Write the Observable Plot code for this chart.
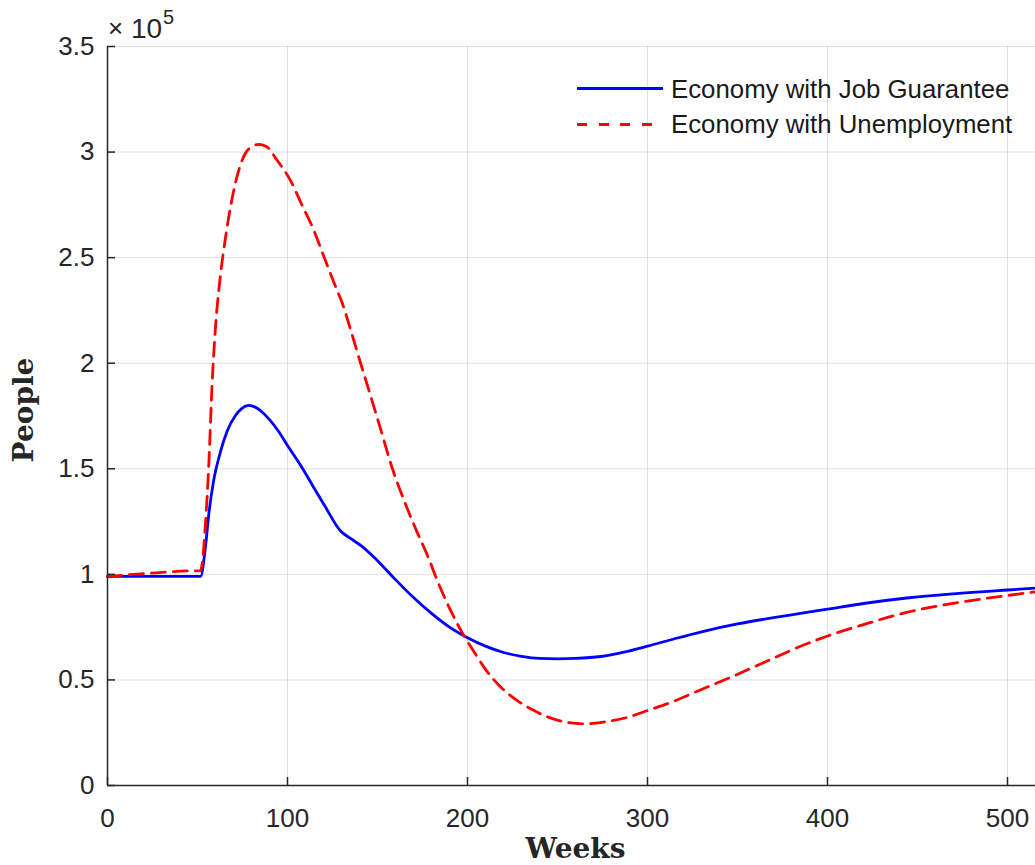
<!DOCTYPE html>
<html>
<head>
<meta charset="utf-8">
<script src="https://cdn.jsdelivr.net/npm/d3@7"></script>
<script src="https://cdn.jsdelivr.net/npm/@observablehq/plot@0.6"></script>
<style>
  html, body { margin: 0; padding: 0; background: #fff; overflow: hidden; }
  #wrap { position: relative; width: 1035px; height: 865px; overflow: hidden; background: #fff; }
  #wrap svg { max-width: none !important; }
  .ovl { position: absolute; font-family: "Liberation Sans", Arial, Helvetica, sans-serif; white-space: nowrap; }
  .sample { position: absolute; height: 3px; }
</style>
</head>
<body>
<div id="wrap"></div>
<script>
// ---- data ----
const seriesNames = ["Economy with Job Guarantee", "Economy with Unemployment"];
const seriesColors = ["#0000ff", "#ff0000"];

const weeksJG = [0, 20, 40, 51.7, 54.4, 56.3, 59.1, 62.8, 66.5, 71.1, 74.5, 78.5, 82, 86, 90, 95, 100, 107, 114, 121, 129.5, 135, 141, 150, 160, 170, 180, 190, 200, 210, 220, 230, 240, 250, 260, 274, 287, 300, 315, 330, 350, 370, 385, 400, 420, 444, 470, 500, 520];
const peopleJG = [99000, 99000, 99000, 99000, 112900, 128700, 145000, 158200, 167900, 175200, 178500, 180000, 179200, 176800, 173300, 167800, 161000, 152000, 142000, 132000, 120500, 117000, 113500, 106500, 97500, 89000, 81500, 75000, 70000, 66000, 63000, 61200, 60200, 60000, 60200, 61100, 63200, 66000, 69500, 72800, 76500, 79500, 81500, 83500, 86200, 88800, 90800, 92600, 93700];

const weeksUN = [0, 10, 20, 30, 40, 51.7, 52.6, 54.4, 56.3, 58.1, 60, 62.8, 65.6, 68.3, 72.9, 78.5, 84, 88, 94.3, 101.7, 108, 114.6, 120, 127.6, 130, 135, 140.6, 146, 152, 158.3, 165, 172, 178, 183, 190, 198, 205, 210, 218, 228, 237, 246, 255, 266, 277, 289, 300, 315, 330, 345, 357, 370, 381, 400, 420, 444, 470, 500, 520];
const peopleUN = [99000, 99700, 100300, 100900, 101500, 101800, 105000, 123900, 152400, 190000, 217000, 242000, 259700, 273900, 291300, 301500, 303600, 302800, 296000, 286500, 275000, 263000, 251000, 234400, 229500, 216000, 200000, 185000, 168000, 150000, 134500, 120000, 108500, 97500, 84000, 71000, 61500, 55000, 47000, 40000, 35500, 32000, 30000, 29200, 30200, 32300, 35500, 40000, 45500, 50800, 55300, 60300, 64500, 70800, 76200, 82000, 86300, 90000, 92200];

const xTicks = [0, 100, 200, 300, 400, 500];
const yTicks = [0, 50000, 100000, 150000, 200000, 250000, 300000, 350000];
const yTickLabels = ["0", "0.5", "1", "1.5", "2", "2.5", "3", "3.5"];
const xLabel = "Weeks";
const yLabel = "People";
const exponentTimes = "\u00d7";
const exponentBase = "10";
const exponent = "5";

// ---- build tables ----
const jg = weeksJG.map((w, i) => ({week: w, people: peopleJG[i]}));
const un = weeksUN.map((w, i) => ({week: w, people: peopleUN[i]}));

const axisColor = "#262626";
const fontSans = "'Liberation Sans', Arial, Helvetica, sans-serif";
const fontSerif = "'DejaVu Serif', serif";

const chart = Plot.plot({
  width: 1043,
  height: 865,
  marginLeft: 107,
  marginRight: 0,
  marginTop: 46,
  marginBottom: 80,
  style: {fontFamily: fontSans, fontSize: "26px", color: axisColor, background: "transparent", overflow: "visible"},
  x: {domain: [0, 520]},
  y: {domain: [0, 350000]},
  marks: [
    Plot.gridX(xTicks, {stroke: axisColor, strokeOpacity: 0.15, strokeWidth: 1}),
    Plot.gridY(yTicks, {stroke: axisColor, strokeOpacity: 0.15, strokeWidth: 1}),
    Plot.line(jg, {x: "week", y: "people", stroke: seriesColors[0], strokeWidth: 2.8, curve: "monotone-x"}),
    Plot.line(un, {x: "week", y: "people", stroke: seriesColors[1], strokeWidth: 2.8, strokeDasharray: "14,8", curve: "monotone-x"}),
    Plot.ruleX([0], {stroke: axisColor, strokeWidth: 1.5}),
    Plot.ruleY([0], {stroke: axisColor, strokeWidth: 1.5}),
    Plot.axisX(xTicks, {tickSize: -8, tickFormat: () => "", label: null, stroke: axisColor, strokeWidth: 1.5}),
    Plot.axisX(xTicks, {tickSize: 0, tickPadding: 23, label: null, fill: axisColor, fontSize: 26}),
    Plot.axisY(yTicks, {tickSize: -8, tickFormat: () => "", label: null, stroke: axisColor, strokeWidth: 1.5}),
    Plot.axisY(yTicks, {tickSize: 0, tickPadding: 13, tickFormat: d => yTickLabels[yTicks.indexOf(d)], label: null, fill: axisColor, fontSize: 26}),
    Plot.text([xLabel], {frameAnchor: "bottom", lineAnchor: "middle", textAnchor: "middle", dy: 64, text: d => d, fontFamily: fontSerif, fontWeight: "bold", fontSize: 28, fill: axisColor}),
    Plot.text([yLabel], {frameAnchor: "left", lineAnchor: "middle", textAnchor: "middle", dx: -83, dy: -6, rotate: -90, text: d => d, fontFamily: fontSerif, fontWeight: "bold", fontSize: 28, fill: axisColor})
  ]
});
chart.style.maxWidth = "none";
const wrap = document.getElementById("wrap");
wrap.appendChild(chart);

// exponent label (x10^5)
function addText(txt, css) {
  const d = document.createElement("div");
  d.className = "ovl";
  d.style.cssText = css;
  d.textContent = txt;
  wrap.appendChild(d);
}
addText(exponentTimes, "left:108px;top:14px;font-size:26px;line-height:28px;color:#262626;");
addText(exponentBase, "left:131px;top:15px;font-size:28px;line-height:28px;color:#262626;");
addText(exponent, "left:163px;top:7px;font-size:20px;line-height:20px;color:#262626;");

// legend
const legendRows = [
  {name: seriesNames[0], color: seriesColors[0], dashed: false, top: 76, lineY: 88},
  {name: seriesNames[1], color: seriesColors[1], dashed: true, top: 111, lineY: 124}
];
for (const r of legendRows) {
  const s = document.createElement("div");
  s.className = "sample";
  s.style.left = "577px";
  s.style.width = "86px";
  s.style.top = (r.lineY - 1.5) + "px";
  s.style.background = r.dashed
    ? `repeating-linear-gradient(to right, ${r.color} 0 10px, transparent 10px 21.5px)`
    : r.color;
  wrap.appendChild(s);
  addText(r.name, `left:671px;top:${r.top}px;font-size:25.8px;line-height:26px;color:#1a1a1a;`);
}
</script>
</body>
</html>
